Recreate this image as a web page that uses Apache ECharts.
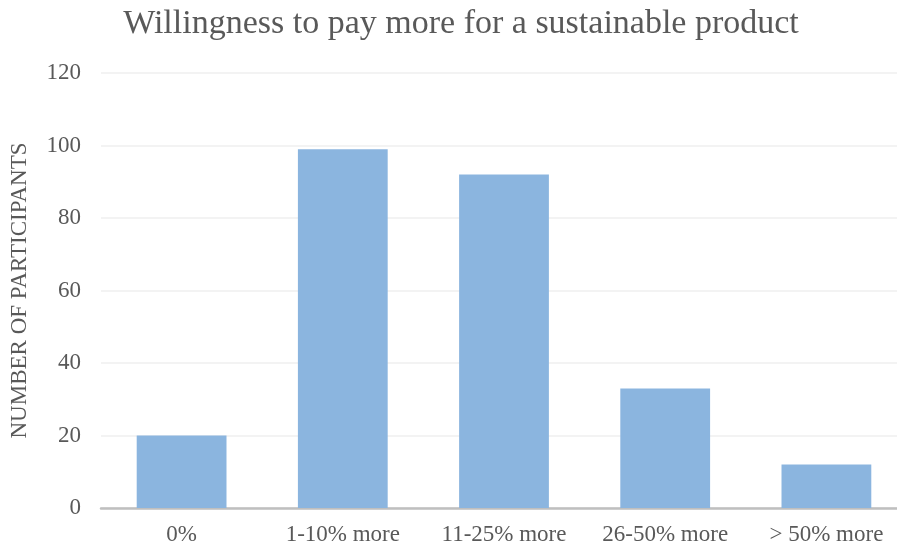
<!DOCTYPE html>
<html><head><meta charset="utf-8">
<script src="https://cdn.jsdelivr.net/npm/echarts@6/dist/echarts.min.js"></script>
<style>html,body{margin:0;padding:0;background:#fff;overflow:hidden;width:897px;height:550px}#c{width:907px;height:550px}</style>
</head><body><div id="c"></div>
<script>
const categories = ['0%', '1-10% more', '11-25% more', '26-50% more', '> 50% more'];
const participants = [20, 99, 92, 33, 12];
const yTicks = { min: 0, max: 120, interval: 20 };

const chart = echarts.init(document.getElementById('c'), null, { renderer: 'canvas' });
const font = '"Liberation Serif", "Times New Roman", serif';
chart.setOption({
  animation: false,
  title: {
    text: 'Willingness to pay more for a sustainable product',
    left: 456, top: 2, textAlign: 'center',
    textStyle: { fontFamily: font, fontSize: 34, fontWeight: 'normal', color: '#595959' }
  },
  grid: { left: 100, top: 73, right: 0, bottom: 42, containLabel: false },
  xAxis: {
    type: 'category', data: categories,
    axisLine: { lineStyle: { color: '#bfbfbf', width: 2.5 } },
    axisTick: { show: false },
    axisLabel: { fontFamily: font, fontSize: 23, color: '#595959', margin: 15, interval: 0 }
  },
  yAxis: {
    type: 'value', min: yTicks.min, max: yTicks.max, interval: yTicks.interval,
    name: 'NUMBER OF PARTICIPANTS', nameLocation: 'middle', nameGap: 70, nameRotate: 90,
    nameTextStyle: { fontFamily: font, fontSize: 23, color: '#595959' },
    axisLine: { show: false }, axisTick: { show: false },
    axisLabel: { fontFamily: font, fontSize: 23, color: '#595959', margin: 20 },
    splitLine: { lineStyle: { color: '#efefef', width: 1.5 } }
  },
  series: [{
    type: 'bar', data: participants, barWidth: '55.7%',
    itemStyle: { color: '#8bb5df' }
  }]
});
</script></body></html>
